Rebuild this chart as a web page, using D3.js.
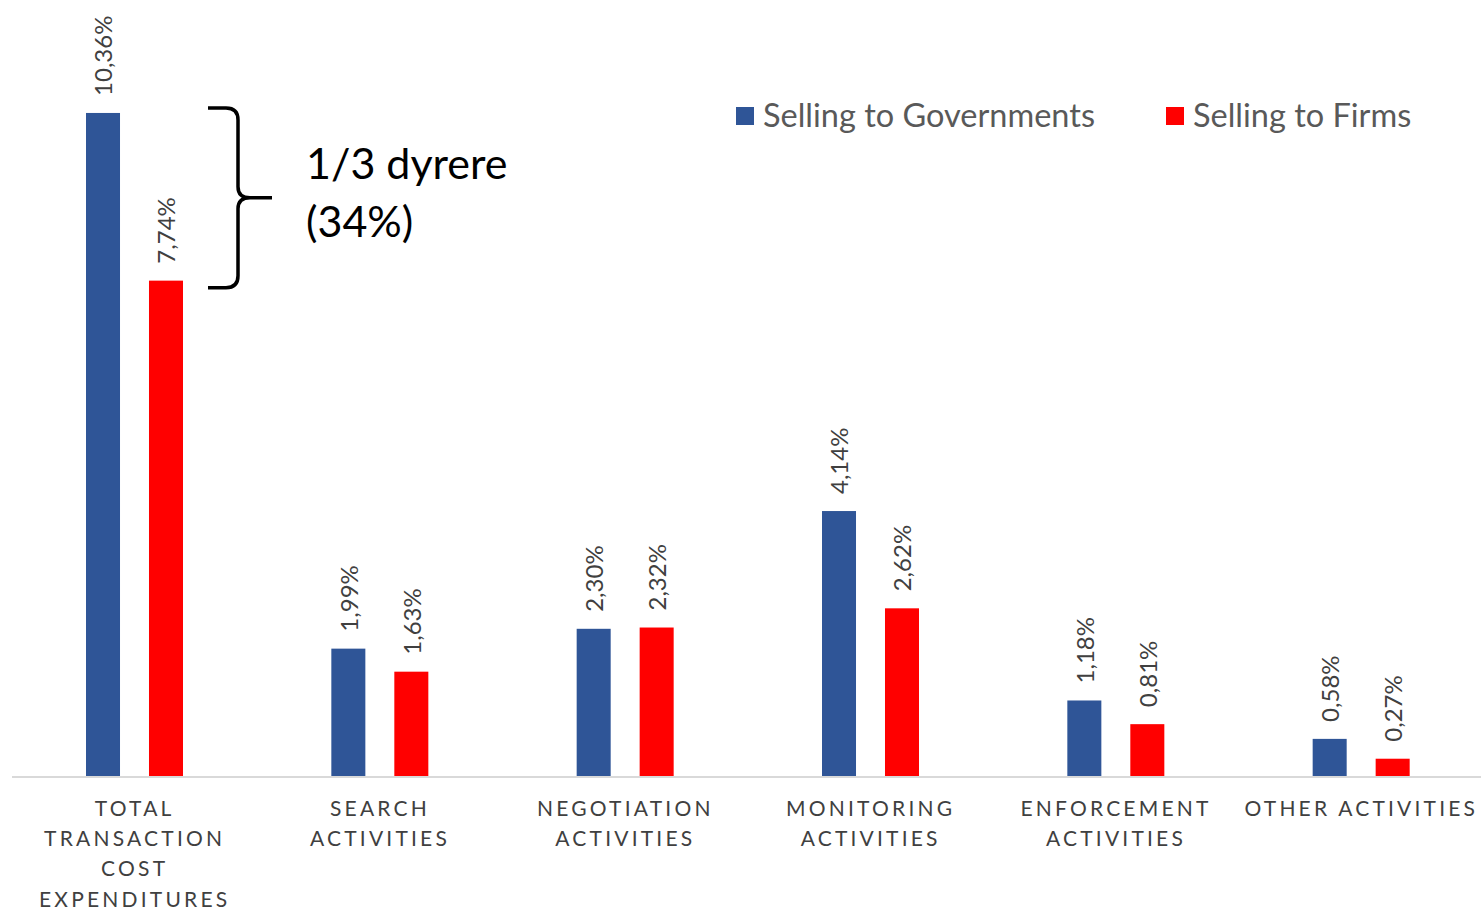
<!DOCTYPE html>
<html>
<head>
<meta charset="utf-8">
<script src="https://cdn.jsdelivr.net/npm/d3@7/dist/d3.min.js"></script>
<style>
  html, body { margin: 0; padding: 0; background: #fff; }
  svg { display: block; font-family: Lato, "Open Sans", sans-serif; }
</style>
</head>
<body>
<svg id="chart" width="1481" height="911"></svg>
<script>
const categories = ["TOTAL TRANSACTION COST EXPENDITURES", "SEARCH ACTIVITIES", "NEGOTIATION ACTIVITIES", "MONITORING ACTIVITIES", "ENFORCEMENT ACTIVITIES", "OTHER ACTIVITIES"];
const categoryLines = [["TOTAL", "TRANSACTION", "COST", "EXPENDITURES"], ["SEARCH", "ACTIVITIES"], ["NEGOTIATION", "ACTIVITIES"], ["MONITORING", "ACTIVITIES"], ["ENFORCEMENT", "ACTIVITIES"], ["OTHER ACTIVITIES"]];
const seriesNames = ["Selling to Governments", "Selling to Firms"];
const governments = [10.36, 1.99, 2.30, 4.14, 1.18, 0.58];
const firms = [7.74, 1.63, 2.32, 2.62, 0.81, 0.27];
const annotationLines = ["1/3 dyrere", "(34%)"];

const colors = ["#2F5597", "#FF0000"];
const svg = d3.select("#chart");

const x0 = d3.scaleBand().domain(categories).range([11, 1483]).padding(0);
const x1 = d3.scaleBand().domain(seriesNames).range([75, 172]).paddingInner(0.46).paddingOuter(0);
const y = d3.scaleLinear().domain([0, 12]).range([776, 8]);

const fmt = v => v.toFixed(2).replace(".", ",") + "%";

const data = categories.map((c, i) => ({cat: c, vals: [governments[i], firms[i]]}));

// axis line
svg.append("line")
  .attr("x1", 12).attr("x2", 1481)
  .attr("y1", y(0) + 1).attr("y2", y(0) + 1)
  .attr("stroke", "#D9D9D9").attr("stroke-width", 2);

const groups = svg.selectAll("g.grp").data(data).join("g")
  .attr("class", "grp")
  .attr("transform", d => `translate(${x0(d.cat)},0)`);

groups.selectAll("rect").data(d => d.vals.map((v, j) => ({v, s: seriesNames[j], j})))
  .join("rect")
  .attr("x", d => x1(d.s))
  .attr("width", x1.bandwidth())
  .attr("y", d => y(d.v))
  .attr("height", d => y(0) - y(d.v))
  .attr("fill", d => colors[d.j]);

groups.selectAll("text.val").data(d => d.vals.map((v, j) => ({v, s: seriesNames[j], j})))
  .join("text")
  .attr("class", "val")
  .attr("transform", d => `translate(${x1(d.s) + x1.bandwidth() / 2 + 1},${y(d.v) - 17}) rotate(-90)`)
  .attr("dy", "0.35em")
  .attr("text-anchor", "start")
  .attr("font-size", 24)
  .attr("fill", "#404040")
  .text(d => fmt(d.v));

// category labels
categories.forEach((c, i) => {
  const cx = x0(c) + x0.bandwidth() / 2 + 1;
  const t = svg.append("text")
    .attr("x", cx)
    .attr("y", 816)
    .attr("text-anchor", "middle")
    .attr("font-size", 21)
    .attr("letter-spacing", 3.2)
    .attr("fill", "#404040");
  categoryLines[i].forEach((ln, k) => {
    t.append("tspan").attr("x", cx).attr("y", 816 + k * 30.2).text(ln);
  });
});

// legend
const legendX = [736, 1166];
seriesNames.forEach((s, j) => {
  svg.append("rect").attr("x", legendX[j]).attr("y", 107).attr("width", 18).attr("height", 18).attr("fill", colors[j]);
  svg.append("text").attr("x", legendX[j] + 27).attr("y", 127)
    .attr("font-size", 32.5).attr("fill", "#595959").text(s);
});

// bracket annotation
const yTop = y(governments[0]) - 5, yBot = y(firms[0]) + 7, yMid = (yTop + yBot) / 2;
const bx = 238;
const brace = d3.path();
brace.moveTo(208, yTop);
brace.lineTo(226, yTop);
brace.quadraticCurveTo(bx, yTop, bx, yTop + 12);
brace.lineTo(bx, yMid - 11);
brace.quadraticCurveTo(bx, yMid, bx + 12, yMid);
brace.lineTo(272, yMid);
brace.moveTo(bx + 12, yMid);
brace.quadraticCurveTo(bx, yMid, bx, yMid + 11);
brace.lineTo(bx, yBot - 12);
brace.quadraticCurveTo(bx, yBot, 226, yBot);
brace.lineTo(208, yBot);
svg.append("path").attr("d", brace.toString())
  .attr("fill", "none").attr("stroke", "#000").attr("stroke-width", 3.5);

annotationLines.forEach((ln, k) => {
  svg.append("text").attr("x", 306).attr("y", 179 + k * 58)
    .attr("font-size", 43).attr("fill", "#000").text(ln);
});
</script>
</body>
</html>
